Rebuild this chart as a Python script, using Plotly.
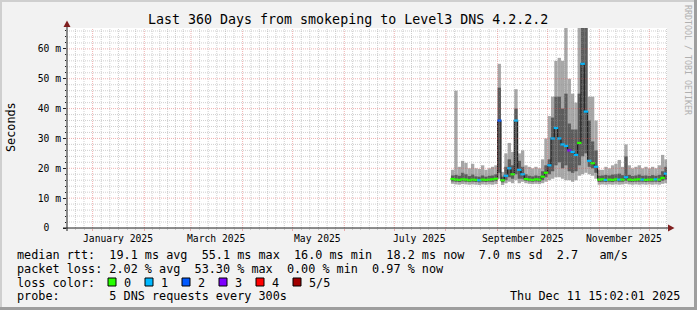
import plotly.graph_objects as go
import pandas as pd

# ---------------- data ----------------
graph_start = "2024-12-16 15:02:01"
graph_end = "2025-12-11 15:02:01"
bin_first = "2025-08-04"   # first consolidated 2-day bin
bin_days = 2

rtt_min = [14.8, 14.6, 14.5, 14.7, 14.6, 14.5, 14.6, 14.5, 14.4, 14.6, 14.5, 14.6, 14.5, 14.7,
           16.5, 14.4, 15.0, 15.5, 15.0, 16.0, 15.0, 15.5, 15.0, 14.8, 14.7, 14.8, 14.7, 15.0,
           15.5, 16.0, 16.5, 17.0, 17.0, 16.5, 16.0, 16.0, 15.5, 16.0, 17.5, 18.0, 18.5, 18.0,
           17.5, 16.5, 14.5, 14.6, 14.5, 14.6, 14.5, 14.6, 14.5, 14.6, 14.8, 14.6, 14.5, 14.6,
           14.5, 14.6, 14.5, 14.6, 14.5, 14.6, 14.5, 14.8, 15.0]
rtt_p2 = [15.6, 15.5, 15.4, 15.6, 15.5, 15.4, 15.5, 15.4, 15.3, 15.5, 15.4, 15.5, 15.5, 15.7,
          18.5, 15.3, 16.0, 17.0, 16.5, 18.0, 16.5, 16.5, 15.8, 15.6, 15.5, 15.6, 15.5, 16.0,
          17.0, 18.0, 19.0, 21.0, 22.0, 20.0, 21.0, 19.0, 18.5, 19.0, 21.0, 24.0, 25.0, 20.5,
          20.0, 18.5, 15.4, 15.5, 15.4, 15.5, 15.4, 15.6, 15.5, 15.5, 15.8, 15.5, 15.4, 15.5,
          15.5, 15.5, 15.4, 15.5, 15.5, 15.5, 15.4, 15.8, 16.2]
rtt_median = [16.4, 16.2, 16.1, 16.3, 16.2, 16.0, 16.2, 16.1, 16.0, 16.2, 16.1, 16.2, 16.3, 16.5,
              36.0, 16.0, 17.5, 20.0, 18.0, 36.0, 19.5, 18.0, 16.4, 16.2, 16.1, 16.3, 16.2, 17.2,
              18.5, 21.0, 30.0, 33.5, 30.0, 28.0, 27.5, 26.0, 25.5, 24.5, 28.5, 55.0, 39.0, 22.5,
              21.7, 20.5, 16.2, 16.3, 16.1, 16.2, 16.1, 16.3, 16.2, 16.2, 17.0, 16.2, 16.1, 16.2,
              16.3, 16.2, 16.1, 16.2, 16.2, 16.3, 16.2, 16.8, 18.2]
rtt_p4 = [17.6, 17.8, 17.5, 18.5, 18.0, 17.4, 17.9, 17.3, 17.2, 17.6, 17.2, 17.5, 17.6, 18.0,
          47.0, 17.2, 20.5, 23.0, 21.0, 40.0, 22.5, 20.5, 18.0, 17.5, 17.3, 17.6, 17.4, 19.0,
          21.0, 23.0, 37.0, 44.0, 44.0, 40.0, 45.0, 35.0, 33.0, 33.0, 45.0, 70.0, 70.0, 36.0,
          29.0, 26.0, 17.5, 17.6, 17.8, 17.6, 17.9, 18.0, 18.2, 17.7, 24.0, 17.8, 17.4, 17.6,
          17.9, 17.5, 17.6, 17.4, 17.7, 17.5, 17.8, 19.0, 20.5]
rtt_max = [19.5, 46.0, 20.5, 22.5, 21.8, 20.0, 21.5, 20.0, 19.8, 21.0, 19.5, 20.0, 20.5, 21.0,
           55.0, 18.8, 25.0, 28.5, 25.5, 46.5, 25.0, 26.0, 21.0, 20.5, 20.0, 20.5, 20.0, 23.0,
           30.0, 37.5, 44.0, 56.0, 57.0, 56.0, 70.0, 50.0, 45.0, 42.0, 70.0, 70.0, 70.0, 44.0,
           44.0, 36.0, 19.5, 19.5, 20.5, 20.0, 21.0, 21.5, 22.8, 20.5, 28.0, 21.0, 20.0, 20.5,
           21.0, 20.0, 20.5, 20.0, 20.5, 20.0, 21.0, 24.5, 23.0]
loss = [0, 0, 0, 0, 0, 0, 0, 0, 1, 0, 0, 0, 0, 0,
        2, 0, 1, 1, 0, 1, 1, 1, 0, 0, 0, 0, 0, 0,
        0, 1, 1, 1, 1, 1, 1, 3, 1, 1, 0, 1, 1, 1,
        0, 1, 0, 0, 1, 0, 0, 0, 1, 0, 1, 0, 0, 0,
        0, 1, 0, 0, 0, 1, 0, 0, 1]

loss_labels = ["0", "1", "2", "3", "4", "5/5"]
loss_colors = ["#26ff00", "#00b8ff", "#0059ff", "#7e00ff", "#ff0000", "#a10000"]

y_tick_vals = [0, 10, 20, 30, 40, 50, 60]
y_tick_text = ["0\u00a0\u00a0", "10 m", "20 m", "30 m", "40 m", "50 m", "60 m"]
y_max = 67.0

title = "Last 360 Days from smokeping to Level3 DNS 4.2.2.2"
legend_lines = [
    "median rtt:  19.1 ms avg  55.1 ms max  16.0 ms min  18.2 ms now  7.0 ms sd  2.7   am/s",
    "packet loss: 2.02 % avg  53.30 % max  0.00 % min  0.97 % now",
    "loss color:",
    "probe:       5 DNS requests every 300s",
]
stamp = "Thu Dec 11 15:02:01 2025"
watermark = "RRDTOOL / TOBI OETIKER"

# ---------------- geometry helpers ----------------
W, H = 697, 310
L, R, T, B = 67, 667, 28, 228
FONT = "DejaVu Sans Mono"


def px(x):
    return (x - L) / (R - L)


def py(y):
    return (B - y) / (B - T)


t0 = pd.Timestamp(graph_start)
t1 = pd.Timestamp(graph_end)
n = len(rtt_median)
starts = pd.date_range(bin_first, periods=n, freq=f"{bin_days}D")
centers = starts + pd.Timedelta(days=bin_days / 2)
bw = bin_days * 86400000

fig = go.Figure()
fig.add_trace(go.Bar(x=centers, base=rtt_min,
                     y=[h - l for h, l in zip(rtt_max, rtt_min)],
                     width=bw, marker=dict(color="#a8a8a8", line=dict(width=0)),
                     hoverinfo="skip"))
fig.add_trace(go.Bar(x=centers, base=rtt_p2,
                     y=[h - l for h, l in zip(rtt_p4, rtt_p2)],
                     width=bw, marker=dict(color="#5c5c5c", line=dict(width=0)),
                     hoverinfo="skip"))
step_x = list(starts) + [starts[-1] + pd.Timedelta(days=bin_days)]
step_y = rtt_median + [rtt_median[-1]]
fig.add_trace(go.Scatter(x=step_x, y=step_y, mode="lines",
                         line=dict(shape="hv", color="#202020", width=1.2),
                         hoverinfo="skip"))
fig.add_trace(go.Scatter(x=centers, y=rtt_median, mode="markers",
                         marker=dict(symbol="line-ew", size=3.2,
                                     line=dict(width=2.2, color=[loss_colors[k] for k in loss])),
                         hoverinfo="skip"))

shapes = []
GRID = "rgba(143,143,143,0.42)"
MGRID = "rgba(222,79,79,0.45)"
# horizontal grid
for v in range(2, int(y_max) + 1, 2):
    major = v % 10 == 0
    shapes.append(dict(type="line", xref="paper", yref="y", x0=0, x1=1, y0=v, y1=v,
                       line=dict(color=MGRID if major else GRID, width=1, dash="1px,1px"),
                       layer="above"))
# vertical grid
month_starts = pd.date_range("2024-12-01", "2026-01-01", freq="MS")
minor_x, major_x = [], []
for a, b in zip(month_starts[:-1], month_starts[1:]):
    if t0 <= a <= t1:
        major_x.append(a)
    for k in range(1, 6):
        m = a + (b - a) * k / 6
        if t0 < m < t1:
            minor_x.append(m)
for xv in minor_x:
    shapes.append(dict(type="line", xref="x", yref="paper", x0=xv, x1=xv, y0=0, y1=1,
                       line=dict(color=GRID, width=1, dash="1px,1px"), layer="above"))
for xv in major_x:
    shapes.append(dict(type="line", xref="x", yref="paper", x0=xv, x1=xv, y0=0, y1=1,
                       line=dict(color=MGRID, width=1, dash="1px,1px"), layer="above"))

# axes lines and arrows
AX = "#1f1f1f"
ARROW = "#801f1f"
shapes.append(dict(type="line", xref="paper", yref="paper", x0=px(67), x1=px(67),
                   y0=py(231), y1=py(25), line=dict(color=AX, width=1), layer="above"))
shapes.append(dict(type="line", xref="paper", yref="paper", x0=px(63), x1=px(670),
                   y0=py(228), y1=py(228), line=dict(color=AX, width=1), layer="above"))
shapes.append(dict(type="path", xref="paper", yref="paper",
                   path=f"M {px(63.5)} {py(27)} L {px(70.5)} {py(27)} L {px(67)} {py(20.5)} Z",
                   fillcolor=ARROW, line=dict(width=0), layer="above"))
shapes.append(dict(type="path", xref="paper", yref="paper",
                   path=f"M {px(668)} {py(224.5)} L {px(668)} {py(231.5)} L {px(674.5)} {py(228)} Z",
                   fillcolor=ARROW, line=dict(width=0), layer="above"))

# frame shading
shapes.append(dict(type="rect", xref="paper", yref="paper", x0=px(0), x1=px(697), y0=py(0), y1=py(2),
                   fillcolor="#cfcfcf", line=dict(width=0)))
shapes.append(dict(type="rect", xref="paper", yref="paper", x0=px(0), x1=px(2), y0=py(0), y1=py(310),
                   fillcolor="#cfcfcf", line=dict(width=0)))
shapes.append(dict(type="rect", xref="paper", yref="paper", x0=px(694), x1=px(697), y0=py(0), y1=py(310),
                   fillcolor="#9e9e9e", line=dict(width=0)))
shapes.append(dict(type="rect", xref="paper", yref="paper", x0=px(0), x1=px(697), y0=py(307), y1=py(310),
                   fillcolor="#9e9e9e", line=dict(width=0)))

# loss colour boxes
box_x = [108, 145, 182, 219, 256, 293]
for bx, col in zip(box_x, loss_colors):
    shapes.append(dict(type="rect", xref="paper", yref="paper", x0=px(bx), x1=px(bx + 8),
                       y0=py(286), y1=py(278), fillcolor=col, line=dict(color="#000000", width=1)))

ann = []
ann.append(dict(text=title, x=px(348), y=py(20), xref="paper", yref="paper", showarrow=False,
                xanchor="center", yanchor="middle", font=dict(family=FONT, size=13.3, color="#000")))
ann.append(dict(text="Seconds", x=px(11), y=py(127), xref="paper", yref="paper", showarrow=False,
                textangle=-90, xanchor="center", yanchor="middle",
                font=dict(family=FONT, size=11.8, color="#000")))
ann.append(dict(text=watermark, x=px(688), y=py(60), xref="paper", yref="paper", showarrow=False,
                textangle=90, xanchor="center", yanchor="middle",
                font=dict(family=FONT, size=8.3, color="#b0b0b0")))
for mo in major_x:
    if mo.month % 2 == 1:
        ann.append(dict(text=mo.strftime("%B %Y"), x=mo + pd.Timedelta(days=15), y=py(238),
                        xref="x", yref="paper", showarrow=False, xanchor="center", yanchor="middle",
                        font=dict(family=FONT, size=9.7, color="#000")))
line_y = [255, 269, 282.5, 296]
for txt, ly in zip(legend_lines, line_y):
    ann.append(dict(text=txt.replace(" ", "\u00a0"), x=px(16), y=py(ly), xref="paper", yref="paper",
                    showarrow=False, xanchor="left", yanchor="middle", borderpad=0,
                    font=dict(family=FONT, size=11.8, color="#000")))
for bx, lab in zip(box_x, loss_labels):
    ann.append(dict(text=lab, x=px(bx + 15), y=py(282.5), xref="paper", yref="paper",
                    showarrow=False, xanchor="left", yanchor="middle", borderpad=0,
                    font=dict(family=FONT, size=11.8, color="#000")))
ann.append(dict(text=stamp.replace(" ", "\u00a0"), x=px(681), y=py(296), xref="paper", yref="paper",
                showarrow=False, xanchor="right", yanchor="middle", borderpad=0,
                font=dict(family=FONT, size=11.8, color="#000")))

fig.update_layout(
    width=W, height=H, margin=dict(l=L, r=W - R, t=T, b=H - B, pad=0),
    paper_bgcolor="#f2f2f2", plot_bgcolor="#ffffff",
    barmode="overlay", showlegend=False, shapes=shapes, annotations=ann,
    xaxis=dict(type="date", range=[t0, t1], showgrid=False, zeroline=False, showline=False,
               tickvals=major_x, showticklabels=False, ticks="outside", ticklen=2,
               tickcolor=MGRID, minor=dict(tickvals=minor_x, ticks="outside", ticklen=1,
                                           tickcolor=GRID, showgrid=False)),
    yaxis=dict(range=[0, y_max], showgrid=False, zeroline=False, showline=False,
               tickvals=y_tick_vals, ticktext=y_tick_text, ticks="outside", ticklen=3,
               tickcolor=AX, tickfont=dict(family=FONT, size=9.7, color="#000"),
               minor=dict(dtick=2, ticks="outside", ticklen=1, tickcolor=AX, showgrid=False)),
)
fig.write_html("out.html")
